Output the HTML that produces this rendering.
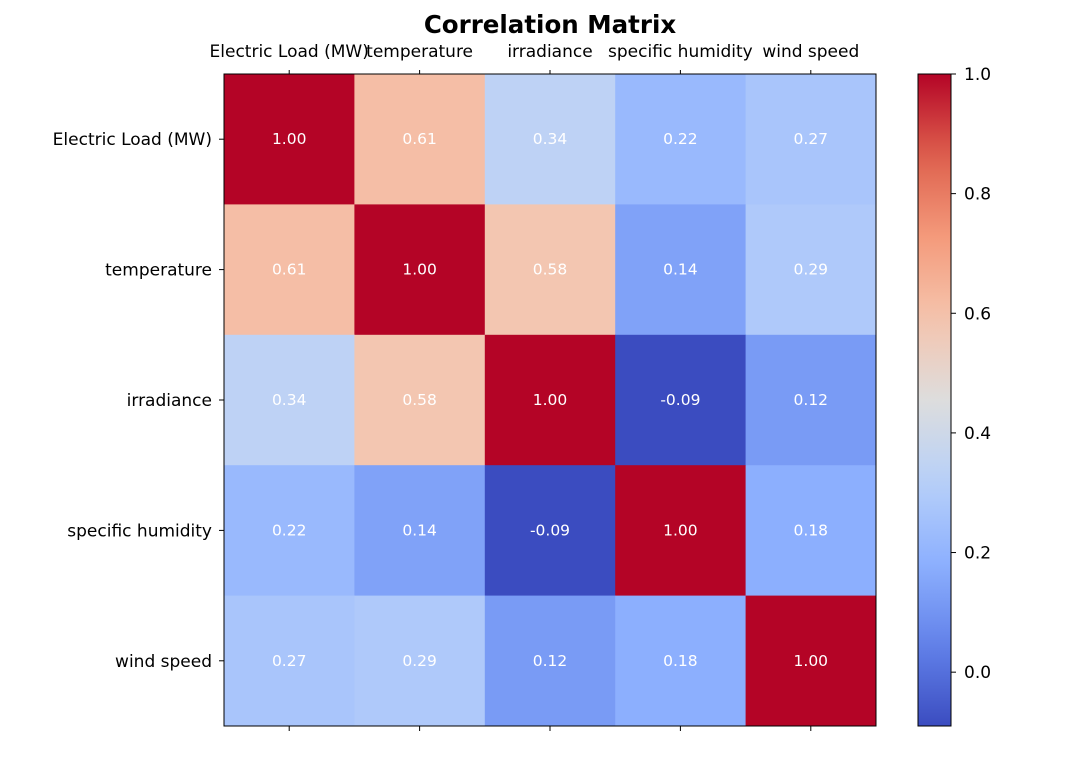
<!DOCTYPE html>
<html><head><meta charset="utf-8"><style>
body{margin:0;background:#fff;}
svg text{font-family:"DejaVu Sans","Liberation Sans",sans-serif;}
</style></head><body>
<svg id="chart" width="1069" height="757" xmlns="http://www.w3.org/2000/svg">
<defs><linearGradient id="cbgrad" x1="0" y1="1" x2="0" y2="0"></linearGradient></defs>
<text x="550" y="33" text-anchor="middle" font-size="24.5" font-weight="bold" fill="#000">Correlation Matrix</text>
<g id="cells"></g><g id="axes"></g><g id="cbar"></g>
</svg>
<script>
const labels = ["Electric Load (MW)","temperature","irradiance","specific humidity","wind speed"];
const row0 = [1.00,0.61,0.34,0.22,0.27];
const row1 = [0.61,1.00,0.58,0.14,0.29];
const row2 = [0.34,0.58,1.00,-0.09,0.12];
const row3 = [0.22,0.14,-0.09,1.00,0.18];
const row4 = [0.27,0.29,0.12,0.18,1.00];
const matrix = [row0,row1,row2,row3,row4];
const cbTicks = [0.0,0.2,0.4,0.6,0.8,1.0];

const NS="http://www.w3.org/2000/svg";
const L=224,T=74,W=652,H=652;
const n=labels.length, cw=W/n, ch=H/n;
let vmin=Infinity,vmax=-Infinity;
matrix.forEach(r=>r.forEach(v=>{vmin=Math.min(vmin,v);vmax=Math.max(vmax,v);}));
const anchors=[[59,76,192],[98,130,234],[141,176,254],[184,208,249],[221,221,221],[245,196,173],[244,154,123],[222,96,77],[180,4,38]];
function cmap(t){t=Math.max(0,Math.min(1,t));const p=t*8,i=Math.min(7,Math.floor(p)),f=p-i;const a=anchors[i],b=anchors[i+1];
 return `rgb(${Math.round(a[0]+(b[0]-a[0])*f)},${Math.round(a[1]+(b[1]-a[1])*f)},${Math.round(a[2]+(b[2]-a[2])*f)})`;}
const norm=v=>(v-vmin)/(vmax-vmin);
function el(tag,attrs,parent){const e=document.createElementNS(NS,tag);for(const k in attrs)e.setAttribute(k,attrs[k]);parent.appendChild(e);return e;}
const cells=document.getElementById('cells'),axes=document.getElementById('axes'),cb=document.getElementById('cbar');
matrix.forEach((r,i)=>r.forEach((v,j)=>{
 const rc=el('rect',{x:L+j*cw,y:T+i*ch,width:cw+0.5,height:ch+0.5,fill:cmap(norm(v))},cells);
 
 
 const t=el('text',{x:L+(j+0.5)*cw,y:T+(i+0.5)*ch+5,'text-anchor':'middle','font-size':'15.5',fill:'#fff'},cells);
 t.textContent=v.toFixed(2);
 
 
}));
const fr=el('rect',{x:L,y:T,width:W,height:H,fill:'none',stroke:'#000','stroke-width':1},axes);


labels.forEach((lab,k)=>{
 const cx=L+(k+0.5)*cw, cy=T+(k+0.5)*ch;
 el('line',{x1:cx,y1:T,x2:cx,y2:T-4,stroke:'#000'},axes);
 el('line',{x1:cx,y1:T+H,x2:cx,y2:T+H+5,stroke:'#000'},axes);
 el('line',{x1:L,y1:cy,x2:L-5,y2:cy,stroke:'#000'},axes);
 const tx=el('text',{x:cx,y:T-17,'text-anchor':'middle','font-size':'17',fill:'#000'},axes);
 tx.textContent=lab;
 
 
 const ty=el('text',{x:L-12,y:cy+6,'text-anchor':'end','font-size':'17',fill:'#000'},axes);
 ty.textContent=lab;
 
 
});
const CL=918,CW=33;
const grad=document.getElementById('cbgrad');
for(let s=0;s<=20;s++){el('stop',{offset:(s/20),'stop-color':cmap(s/20)},grad);}
const cr=el('rect',{x:CL,y:T,width:CW,height:H,fill:'url(#cbgrad)',stroke:'#000','stroke-width':1},cb);


const cy=v=>T+H-(v-vmin)/(vmax-vmin)*H;
cbTicks.forEach(v=>{
 const y=cy(v);
 el('line',{x1:CL+CW,y1:y,x2:CL+CW+5,y2:y,stroke:'#000'},cb);
 const t=el('text',{x:CL+CW+13,y:y+6,'font-size':'17',fill:'#000'},cb);
 t.textContent=v.toFixed(1);
 
 
});
</script>
</body></html>
